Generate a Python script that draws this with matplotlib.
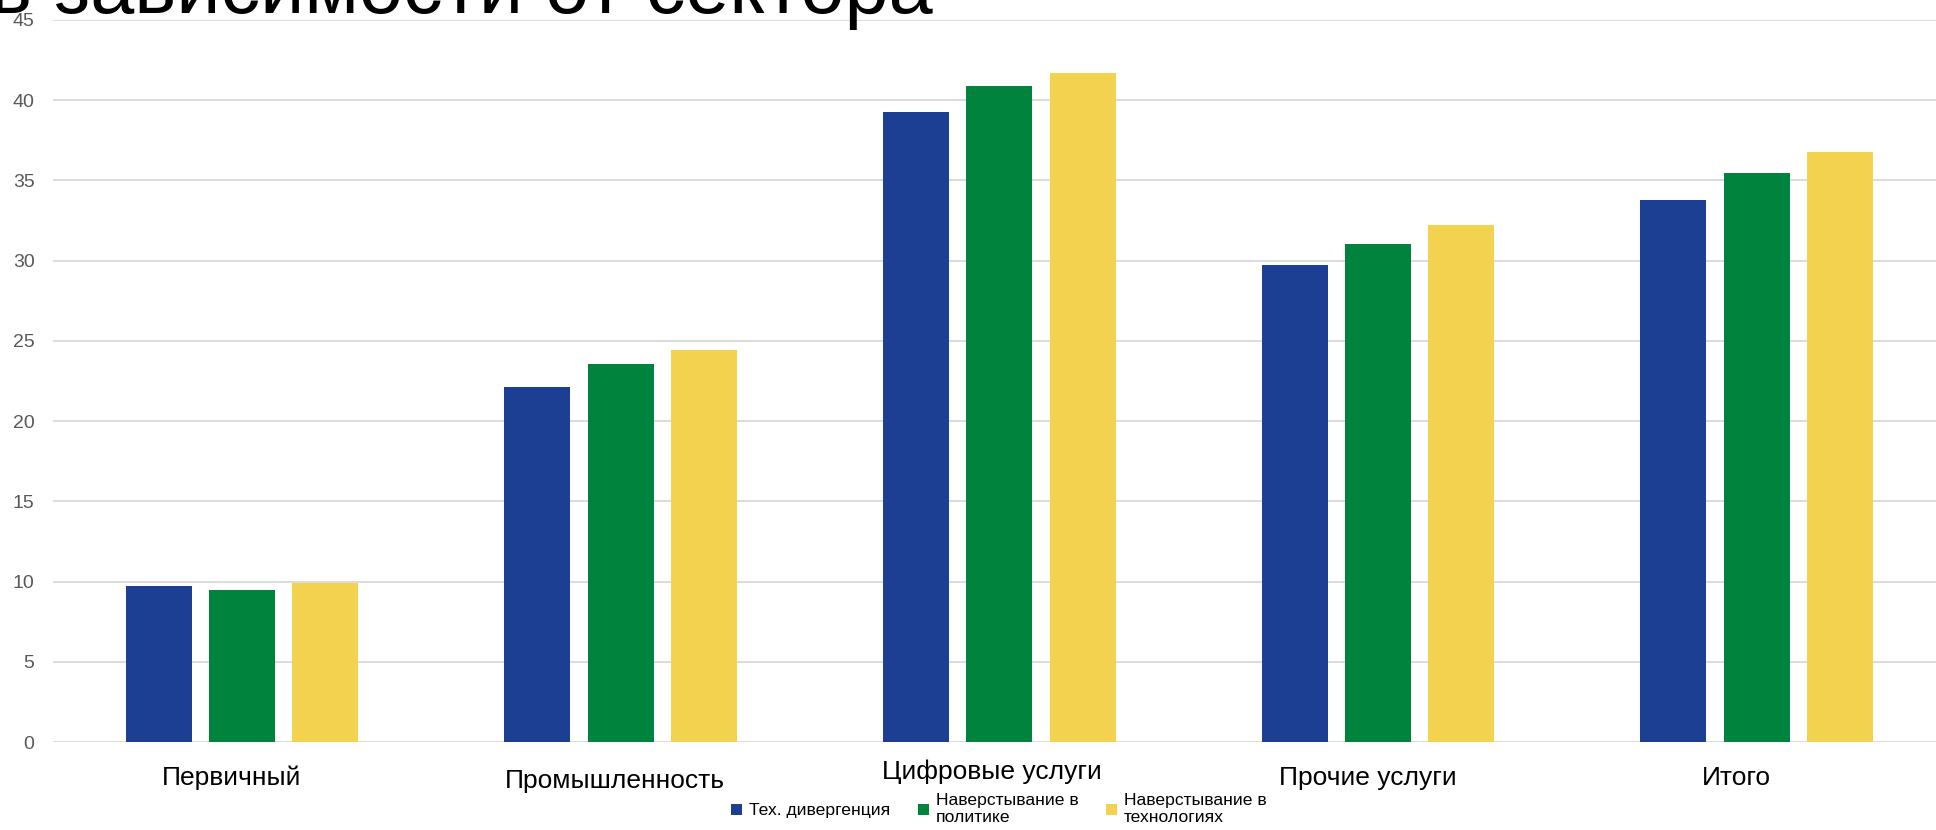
import numpy as np
import matplotlib
matplotlib.use('Agg')
import matplotlib.pyplot as plt
from matplotlib import transforms

plt.rcParams['font.family'] = ['Liberation Sans', 'DejaVu Sans']

# data
sectors = ['Первичный', 'Промышленность', 'Цифровые услуги', 'Прочие услуги', 'Итого']
series_names = ['Тех. дивергенция', 'Наверстывание в\nполитике', 'Наверстывание в\nтехнологиях']
tech_div = [9.75, 22.15, 39.25, 29.75, 33.75]
catch_policy = [9.45, 23.55, 40.9, 31.05, 35.45]
catch_tech = [9.9, 24.4, 41.7, 32.2, 36.75]
colors = ['#1C3F94', '#00843D', '#F2D24E']

fig = plt.figure(figsize=(19.36, 8.30), dpi=100)
# plot area runs a little past the right edge of the slide
ax = fig.add_axes([0.0272, 0.106, 0.978, 0.870])

x = np.arange(len(sectors))
width = 0.174
step = 0.22
for i, (vals, name) in enumerate(zip([tech_div, catch_policy, catch_tech], series_names)):
    ax.bar(x + (i - 1) * step, vals, width, color=colors[i], label=name, zorder=3)

ax.set_xlim(-0.5, len(sectors) - 0.5)
ax.set_ylim(0, 45)
ax.set_yticks(np.arange(0, 50, 5))
ax.yaxis.grid(True, color='#D9D9D9', linewidth=1.3, zorder=0)
ax.tick_params(axis='y', length=0, labelsize=14, labelcolor='#595959', pad=13)
ax.tick_params(axis='x', length=0, labelsize=19, pad=17)
ax.set_xticks(x)
ax.set_xticklabels(sectors)
# labels in the reference sit a bit off the group centres (pixels, x and y)
dx = [-10, -6, -7, -10, -20]
dy = [0, -3, 6, 0, 0]
for lab, ox, oy in zip(ax.get_xticklabels(), dx, dy):
    lab.set_transform(lab.get_transform() + transforms.ScaledTranslation(ox / 100, oy / 100, fig.dpi_scale_trans))
for s in ax.spines.values():
    s.set_visible(False)

ax.legend(loc='center', bbox_to_anchor=(0.516, 0.025), bbox_transform=fig.transFigure,
          ncol=3, frameon=False, fontsize=12.6, handlelength=0.6, handleheight=0.6,
          handletextpad=0.4, columnspacing=1.6)

# title, clipped by the top of the image as in the source slide
fig.text(-0.005, 0.984, 'в зависимости от сектора', fontsize=57, va='baseline', ha='left')

fig.savefig('out.png', dpi=100)
